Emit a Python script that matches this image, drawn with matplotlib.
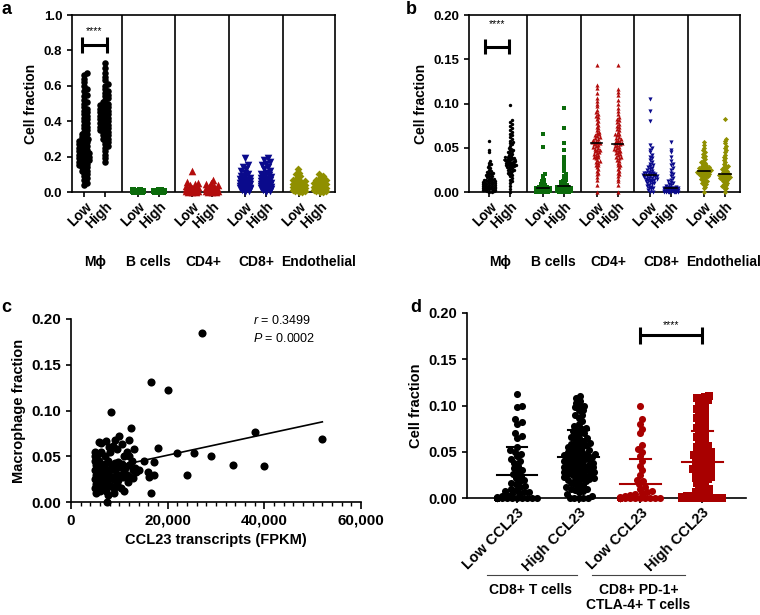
import matplotlib
matplotlib.use('Agg')
import matplotlib.pyplot as plt
import matplotlib.transforms as mtransforms
import numpy as np

plt.rcParams['font.family'] = ['Liberation Sans', 'DejaVu Sans']
plt.rcParams['mathtext.fontset'] = 'custom'
plt.rcParams['mathtext.rm'] = 'Liberation Sans'
plt.rcParams['mathtext.it'] = 'Liberation Sans:italic'

# ---- data -------------------------------------------------------------
cell_types = ['M\u03d5', 'B cells', 'CD4+', 'CD8+', 'Endothelial']
group_colors = ['black', '#0b6b0b', '#b30d0d', '#0a0a8c', '#8f8f00']
group_markers = ['o', 's', '^', 'v', 'D']

# panel a (low / high CCL23)
mac_a_low = [0.04, 0.05, 0.07, 0.08, 0.09, 0.10, 0.11, 0.12, 0.12, 0.13, 0.14, 0.14, 0.15, 0.15, 0.16, 0.16,
             0.17, 0.17, 0.18, 0.18, 0.18, 0.19, 0.19, 0.20, 0.20, 0.20, 0.21, 0.21, 0.22, 0.22, 0.22, 0.23,
             0.23, 0.24, 0.24, 0.25, 0.25, 0.26, 0.26, 0.27, 0.27, 0.28, 0.28, 0.29, 0.30, 0.30, 0.31, 0.32,
             0.33, 0.33, 0.34, 0.35, 0.36, 0.37, 0.38, 0.39, 0.40, 0.41, 0.42, 0.43, 0.44, 0.45, 0.46, 0.47,
             0.48, 0.50, 0.51, 0.52, 0.54, 0.55, 0.57, 0.58, 0.60, 0.62, 0.64, 0.66, 0.67]
mac_a_high = [0.17, 0.19, 0.21, 0.23, 0.25, 0.26, 0.27, 0.28, 0.29, 0.30, 0.30, 0.31, 0.32, 0.32, 0.33, 0.34,
              0.34, 0.35, 0.35, 0.36, 0.36, 0.37, 0.37, 0.38, 0.38, 0.39, 0.39, 0.40, 0.40, 0.41, 0.41, 0.42,
              0.42, 0.43, 0.43, 0.44, 0.44, 0.45, 0.45, 0.46, 0.46, 0.47, 0.47, 0.48, 0.48, 0.49, 0.50, 0.50,
              0.51, 0.52, 0.53, 0.54, 0.55, 0.56, 0.57, 0.58, 0.60, 0.61, 0.63, 0.65, 0.67, 0.70, 0.73]
b_a_low = [0.0, 0.0, 0.0, 0.001, 0.002, 0.003, 0.004, 0.005, 0.006, 0.008, 0.010, 0.012, 0.0, 0.002, 0.004]
b_a_high = [0.0, 0.0, 0.0, 0.001, 0.002, 0.003, 0.004, 0.005, 0.006, 0.007, 0.009, 0.011, 0.0, 0.003]
cd4_a_low = [0.0, 0.0, 0.0, 0.005, 0.005, 0.01, 0.01, 0.01, 0.015, 0.015, 0.02, 0.02, 0.025, 0.03, 0.035,
             0.04, 0.045, 0.05, 0.055, 0.12]
cd4_a_high = [0.0, 0.0, 0.0, 0.005, 0.005, 0.01, 0.01, 0.015, 0.02, 0.02, 0.025, 0.03, 0.035, 0.04, 0.045,
              0.05, 0.07]
cd8_a_low = [0.19, 0.15, 0.14, 0.13, 0.12, 0.11, 0.10, 0.09, 0.085, 0.08, 0.075, 0.07, 0.065, 0.06, 0.06,
             0.055, 0.05, 0.05, 0.045, 0.045, 0.04, 0.04, 0.035, 0.035, 0.03, 0.03, 0.03, 0.025, 0.025, 0.02,
             0.02, 0.02, 0.015, 0.015, 0.01, 0.01, 0.005, 0.0]
cd8_a_high = [0.19, 0.18, 0.17, 0.16, 0.15, 0.14, 0.13, 0.12, 0.11, 0.10, 0.095, 0.09, 0.085, 0.08, 0.075,
              0.07, 0.065, 0.06, 0.06, 0.055, 0.05, 0.05, 0.045, 0.045, 0.04, 0.04, 0.035, 0.035, 0.03, 0.03,
              0.03, 0.025, 0.025, 0.02, 0.02, 0.015, 0.015, 0.01, 0.01, 0.005, 0.0]
endo_a_low = [0.13, 0.11, 0.10, 0.09, 0.08, 0.07, 0.065, 0.06, 0.055, 0.05, 0.045, 0.04, 0.04, 0.035, 0.03,
              0.03, 0.025, 0.025, 0.02, 0.02, 0.015, 0.015, 0.01, 0.01, 0.005, 0.005, 0.0, 0.0]
endo_a_high = [0.10, 0.09, 0.08, 0.07, 0.065, 0.06, 0.055, 0.05, 0.045, 0.04, 0.035, 0.03, 0.03, 0.025, 0.025,
               0.02, 0.02, 0.015, 0.015, 0.01, 0.01, 0.005, 0.005, 0.0, 0.0]

# panel b
mac_b_low = [0.058, 0.048, 0.045, 0.035, 0.033, 0.032, 0.03, 0.028, 0.027, 0.025, 0.024, 0.023, 0.022, 0.021,
             0.02, 0.02, 0.019, 0.018, 0.018, 0.017, 0.016, 0.015, 0.015, 0.014, 0.014, 0.013, 0.013, 0.012,
             0.012, 0.011, 0.011, 0.01, 0.01, 0.01, 0.009, 0.009, 0.009, 0.008, 0.008, 0.008, 0.007, 0.007,
             0.007, 0.006, 0.006, 0.006, 0.005, 0.005, 0.005, 0.004, 0.004, 0.004, 0.003, 0.003, 0.003, 0.002,
             0.002, 0.002, 0.001, 0.001, 0.0, 0.0]
mac_b_high = [0.098, 0.081, 0.079, 0.077, 0.075, 0.072, 0.07, 0.068, 0.066, 0.064, 0.062, 0.06, 0.058, 0.056,
              0.055, 0.054, 0.052, 0.05, 0.049, 0.048, 0.047, 0.046, 0.045, 0.044, 0.043, 0.042, 0.041, 0.04,
              0.04, 0.039, 0.038, 0.038, 0.037, 0.036, 0.036, 0.035, 0.035, 0.034, 0.034, 0.033, 0.033, 0.032,
              0.032, 0.031, 0.031, 0.03, 0.03, 0.029, 0.029, 0.028, 0.028, 0.027, 0.026, 0.025, 0.025, 0.024,
              0.023, 0.022, 0.021, 0.02, 0.019, 0.018, 0.016, 0.014, 0.012, 0.01, 0.007, 0.003, 0.0]
b_b_low = [0.065, 0.051, 0.02, 0.018, 0.015, 0.013, 0.012, 0.01, 0.009, 0.008, 0.007, 0.006, 0.006, 0.005,
           0.005, 0.004, 0.004, 0.004, 0.003, 0.003, 0.003, 0.002, 0.002, 0.002, 0.002, 0.001, 0.001, 0.001,
           0.001, 0.0, 0.0, 0.0, 0.0, 0.0, 0.0]
b_b_high = [0.095, 0.072, 0.055, 0.048, 0.04, 0.035, 0.03, 0.027, 0.024, 0.02, 0.018, 0.016, 0.015, 0.013,
            0.012, 0.011, 0.01, 0.009, 0.008, 0.007, 0.007, 0.006, 0.006, 0.005, 0.005, 0.004, 0.004, 0.004,
            0.003, 0.003, 0.003, 0.002, 0.002, 0.002, 0.001, 0.001, 0.001, 0.0, 0.0, 0.0, 0.0, 0.0]
cd4_b_low = [0.143, 0.121, 0.118, 0.112, 0.106, 0.103, 0.1, 0.097, 0.093, 0.09, 0.088, 0.086, 0.085, 0.083,
             0.08, 0.078, 0.076, 0.074, 0.072, 0.07, 0.068, 0.067, 0.065, 0.064, 0.063, 0.062, 0.061, 0.06,
             0.059, 0.058, 0.057, 0.056, 0.055, 0.055, 0.054, 0.053, 0.052, 0.051, 0.05, 0.049, 0.048, 0.047,
             0.046, 0.045, 0.044, 0.043, 0.042, 0.041, 0.04, 0.039, 0.038, 0.036, 0.035, 0.034, 0.033, 0.031,
             0.03, 0.028, 0.026, 0.024, 0.022, 0.02, 0.017, 0.013, 0.008, 0.0]
cd4_b_high = [0.143, 0.116, 0.113, 0.11, 0.104, 0.1, 0.095, 0.092, 0.088, 0.085, 0.083, 0.081, 0.079, 0.077,
              0.075, 0.073, 0.071, 0.07, 0.068, 0.066, 0.065, 0.064, 0.062, 0.061, 0.06, 0.059, 0.058, 0.057,
              0.056, 0.055, 0.055, 0.054, 0.053, 0.052, 0.051, 0.05, 0.049, 0.048, 0.047, 0.046, 0.045, 0.044,
              0.043, 0.042, 0.04, 0.039, 0.038, 0.036, 0.035, 0.033, 0.031, 0.03, 0.028, 0.026, 0.024, 0.022,
              0.02, 0.018, 0.015, 0.012, 0.008, 0.0]
cd8_b_low = [0.105, 0.092, 0.08, 0.053, 0.05, 0.048, 0.045, 0.042, 0.04, 0.038, 0.036, 0.034, 0.032, 0.03,
             0.029, 0.028, 0.027, 0.026, 0.025, 0.024, 0.023, 0.022, 0.022, 0.021, 0.021, 0.02, 0.02, 0.019,
             0.019, 0.018, 0.018, 0.018, 0.017, 0.017, 0.016, 0.016, 0.015, 0.015, 0.014, 0.014, 0.013, 0.012,
             0.012, 0.011, 0.01, 0.01, 0.009, 0.008, 0.007, 0.006, 0.005, 0.004, 0.003, 0.002, 0.0, 0.0]
cd8_b_high = [0.057, 0.048, 0.045, 0.04, 0.035, 0.032, 0.03, 0.027, 0.025, 0.022, 0.02, 0.018, 0.016, 0.014,
              0.012, 0.011, 0.01, 0.009, 0.008, 0.007, 0.006, 0.006, 0.005, 0.005, 0.005, 0.004, 0.004, 0.004,
              0.004, 0.003, 0.003, 0.003, 0.003, 0.002, 0.002, 0.002, 0.002, 0.001, 0.001, 0.001, 0.001, 0.0,
              0.0, 0.0, 0.0, 0.0, 0.0, 0.0, 0.0, 0.0, 0.0]
endo_b_low = [0.056, 0.053, 0.05, 0.047, 0.045, 0.043, 0.041, 0.039, 0.037, 0.035, 0.034, 0.033, 0.032, 0.031,
              0.03, 0.029, 0.028, 0.028, 0.027, 0.027, 0.026, 0.026, 0.025, 0.025, 0.024, 0.024, 0.023, 0.023,
              0.023, 0.022, 0.022, 0.021, 0.021, 0.02, 0.02, 0.019, 0.019, 0.018, 0.018, 0.017, 0.016, 0.015,
              0.014, 0.013, 0.012, 0.011, 0.01, 0.009, 0.008, 0.006, 0.004, 0.0]
endo_b_high = [0.082, 0.06, 0.058, 0.055, 0.052, 0.05, 0.047, 0.045, 0.042, 0.04, 0.038, 0.036, 0.034, 0.032,
               0.03, 0.029, 0.028, 0.027, 0.026, 0.025, 0.024, 0.023, 0.022, 0.021, 0.02, 0.02, 0.019, 0.019,
               0.018, 0.018, 0.017, 0.017, 0.016, 0.016, 0.015, 0.015, 0.014, 0.013, 0.012, 0.011, 0.01, 0.009,
               0.008, 0.007, 0.006, 0.005, 0.003, 0.0]

panel_a_groups = [(mac_a_low, mac_a_high), (b_a_low, b_a_high), (cd4_a_low, cd4_a_high),
                  (cd8_a_low, cd8_a_high), (endo_a_low, endo_a_high)]
panel_b_groups = [(mac_b_low, mac_b_high), (b_b_low, b_b_high), (cd4_b_low, cd4_b_high),
                  (cd8_b_low, cd8_b_high), (endo_b_low, endo_b_high)]

# panel c: CCL23 FPKM vs macrophage fraction
ccl23_fpkm = [27200, 16500, 20000, 8200, 52000, 38000, 40000, 33500, 29000, 25500, 22000, 24000, 16500, 7500,
              17200, 15000, 18000, 17200, 16200, 16000, 14000, 12500, 12000, 13000, 12800, 12000, 11000, 10000,
              10500, 9000, 7200, 5800, 7800, 8600,
              5000, 5000, 5000, 5200, 5000, 5100, 5000, 5200, 5000, 5100, 5500, 5800, 5600, 5900, 5700, 6000,
              5800, 6100, 6300, 6500, 6600, 6400, 6700, 6500, 6800, 7000, 7200, 7400, 7300, 7600, 7800, 8000,
              8200, 8400, 8600, 8800, 9000, 9200, 9400, 9600, 9800, 10000, 10200, 10400, 10600, 10800, 11000,
              11200, 11500, 11800, 12000, 12300, 12600, 13200, 13500, 6200, 8000, 9500, 11500, 7000, 6900,
              9800, 10900, 12900, 8900, 7600]
mac_fraction = [0.185, 0.131, 0.122, 0.098, 0.069, 0.077, 0.039, 0.040, 0.050, 0.054, 0.054, 0.029, 0.010,
                0.000, 0.044, 0.045, 0.059, 0.029, 0.027, 0.033, 0.035, 0.081, 0.068, 0.058, 0.035, 0.050,
                0.050, 0.072, 0.063, 0.068, 0.067, 0.066, 0.060, 0.061,
                0.055, 0.050, 0.045, 0.040, 0.035, 0.030, 0.025, 0.020, 0.015, 0.010, 0.052, 0.045, 0.038,
                0.032, 0.027, 0.022, 0.017, 0.012, 0.055, 0.040, 0.035, 0.030, 0.025, 0.020, 0.015, 0.041,
                0.030, 0.022, 0.012, 0.045, 0.035, 0.028, 0.018, 0.040, 0.025, 0.015, 0.043, 0.035, 0.028,
                0.020, 0.044, 0.038, 0.030, 0.015, 0.042, 0.027, 0.012, 0.037, 0.030, 0.022, 0.040, 0.027,
                0.045, 0.037, 0.033, 0.065, 0.055, 0.058, 0.055, 0.050, 0.020, 0.024, 0.033, 0.026, 0.010,
                0.008]
corr_text = ['$\\it{r}$ = 0.3499', '$\\it{P}$ = 0.0002']

# panel d
cd8_low_ccl23 = [0.112, 0.1, 0.098, 0.085, 0.082, 0.08, 0.07, 0.067, 0.065, 0.055, 0.052, 0.05, 0.048, 0.045,
                 0.042, 0.04, 0.038, 0.035, 0.032, 0.03, 0.028, 0.026, 0.024, 0.022, 0.02, 0.018, 0.016,
                 0.015, 0.013, 0.012, 0.01, 0.009, 0.008, 0.007, 0.006, 0.005, 0.004, 0.003, 0.002, 0.001]
cd8_low_ccl23 += [0.0] * 20
cd8_high_ccl23 = [0.11, 0.108, 0.105, 0.103, 0.1, 0.098, 0.095, 0.09, 0.087, 0.083, 0.08, 0.078, 0.076, 0.074,
                  0.072, 0.07, 0.068, 0.066, 0.065, 0.063, 0.06, 0.058, 0.056, 0.055, 0.053, 0.052, 0.05,
                  0.049, 0.048, 0.047, 0.046, 0.045, 0.044, 0.043, 0.042, 0.041, 0.04, 0.039, 0.038, 0.037,
                  0.036, 0.035, 0.034, 0.033, 0.032, 0.031, 0.03, 0.029, 0.028, 0.027, 0.026, 0.025, 0.024,
                  0.023, 0.022, 0.021, 0.02, 0.018, 0.016, 0.014, 0.012, 0.01, 0.009, 0.008, 0.006, 0.004,
                  0.002, 0.0, 0.0, 0.0, 0.0, 0.0,
                  0.1, 0.095, 0.09, 0.075, 0.07, 0.065, 0.062, 0.06, 0.057, 0.055, 0.052, 0.05, 0.048, 0.046,
                  0.044, 0.042, 0.04, 0.038, 0.036, 0.034, 0.032, 0.03, 0.028, 0.026, 0.024, 0.022, 0.02,
                  0.018, 0.015, 0.012, 0.01]
pd1_low_ccl23 = [0.1, 0.085, 0.08, 0.075, 0.07, 0.057, 0.053, 0.05, 0.045, 0.04, 0.035, 0.03, 0.025, 0.02,
                 0.018, 0.015, 0.012, 0.01, 0.008, 0.006, 0.005, 0.004, 0.003, 0.002, 0.001]
pd1_low_ccl23 += [0.0] * 30
pd1_high_ccl23 = [0.11, 0.109, 0.108, 0.106, 0.105, 0.103, 0.1, 0.098, 0.096, 0.094, 0.092, 0.09, 0.088,
                  0.086, 0.084, 0.082, 0.08, 0.078, 0.076, 0.074, 0.072, 0.07, 0.068, 0.066, 0.064, 0.062,
                  0.06, 0.058, 0.056, 0.055, 0.054, 0.052, 0.05, 0.049, 0.048, 0.047, 0.046, 0.045, 0.044,
                  0.043, 0.042, 0.041, 0.04, 0.039, 0.038, 0.037, 0.036, 0.035, 0.034, 0.033, 0.032, 0.031,
                  0.03, 0.029, 0.028, 0.027, 0.026, 0.025, 0.024, 0.023, 0.022, 0.021, 0.02, 0.018, 0.016,
                  0.014, 0.012, 0.01, 0.009, 0.008, 0.007, 0.006, 0.005, 0.004, 0.003, 0.002, 0.001,
                  0.108, 0.104, 0.1, 0.095, 0.09, 0.085, 0.08, 0.075, 0.07, 0.065, 0.06, 0.055, 0.05, 0.047,
                  0.044, 0.042, 0.04, 0.038, 0.036, 0.034, 0.032, 0.03, 0.028, 0.026, 0.024, 0.022, 0.02,
                  0.015, 0.01, 0.005, 0.002]
pd1_high_ccl23 += [0.0] * 30
d_groups = [cd8_low_ccl23, cd8_high_ccl23, pd1_low_ccl23, pd1_high_ccl23]
d_colors = ['black', 'black', '#a80000', '#a80000']
d_markers = ['o', 'o', 'o', 's']
d_ticklabels = ['Low CCL23', 'High CCL23', 'Low CCL23', 'High CCL23']


# Spreads points sideways so that markers of diameter d (pixels) don't overlap, like a GraphPad dot plot.
def swarm(ax, vals, center, d, maxw):
    fig = ax.figure
    bb = ax.get_position()
    W, H = fig.get_size_inches() * fig.dpi
    x0, x1 = ax.get_xlim()
    y0, y1 = ax.get_ylim()
    kx = bb.width * W / (x1 - x0)
    ky = bb.height * H / (y1 - y0)
    y = np.asarray(vals, float) * ky
    xs = np.zeros(len(y))
    placed = []
    for i in np.argsort(y, kind='stable'):
        near = [(px, py) for px, py in placed if abs(py - y[i]) < d]
        cands = [0.0]
        for px, py in near:
            w = np.sqrt(d * d - (y[i] - py) ** 2)
            cands += [px + w, px - w]
        cands.sort(key=abs)
        best = None
        for c in cands:
            if abs(c) > maxw + 1e-9:
                continue
            if all((c - px) ** 2 + (y[i] - py) ** 2 >= d * d - 1e-6 for px, py in near):
                best = c
                break
        if best is None:
            grid = np.linspace(-maxw, maxw, 9)
            score = [min((g - px) ** 2 + (y[i] - py) ** 2 for px, py in near) for g in grid]
            best = grid[int(np.argmax(score))]
        placed.append((best, y[i]))
        xs[i] = best
    return center + xs / kx


def bracket(ax, x1, x2, y, cap, lw=2.2):
    ax.plot([x1, x2], [y, y], color='black', lw=lw, solid_capstyle='butt')
    ax.plot([x1, x1], [y - cap, y + cap], color='black', lw=lw, solid_capstyle='butt')
    ax.plot([x2, x2], [y - cap, y + cap], color='black', lw=lw, solid_capstyle='butt')


def style_axis(ax, fs=9.5):
    for s in ax.spines.values():
        s.set_linewidth(1.2)
    ax.tick_params(width=1.2, length=3.5, labelsize=fs)
    for lab in ax.get_yticklabels():
        lab.set_fontweight('bold')


fig = plt.figure(figsize=(7.6, 6.15), dpi=100)
W, H = 760.0, 615.0

low_pos = [2 * k + 0.6 for k in range(5)]
high_pos = [2 * k + 1.38 for k in range(5)]
cat_label_x = [1.0, 3.0, 5.05, 7.0, 9.35]


def dot_panel(rect, xlim, ymax, yticks, yfmt, groups, sizes, d, maxw, medians):
    ax = fig.add_axes(rect)
    ax.set_xlim(xlim)
    ax.set_ylim(0, ymax)
    for xs in [2, 4, 6, 8]:
        ax.axvline(xs, color='black', lw=1.2)
    for k, (lo, hi) in enumerate(groups):
        for pos, vals in [(low_pos[k], lo), (high_pos[k], hi)]:
            xx = swarm(ax, vals, pos, d[k], maxw[k])
            ax.scatter(xx, vals, s=sizes[k], marker=group_markers[k], color=group_colors[k],
                       linewidths=0, clip_on=False, zorder=3)
            if medians:
                ax.plot([pos - 0.22, pos + 0.22], [np.median(vals)] * 2, color='black', lw=1.2, zorder=4)
    ticks = []
    labels = []
    for k in range(5):
        ticks += [low_pos[k], high_pos[k]]
        labels += ['Low', 'High']
    ax.set_xticks(ticks)
    ax.set_xticklabels(labels, rotation=45, ha='right', rotation_mode='anchor', fontweight='bold')
    ax.set_yticks(yticks)
    ax.set_yticklabels([yfmt.format(t) for t in yticks])
    ax.set_ylabel('Cell fraction', fontsize=10, fontweight='bold')
    style_axis(ax)
    ax.tick_params(axis='x', labelsize=10, pad=2)
    trans = mtransforms.blended_transform_factory(ax.transData, ax.transAxes)
    for x, name in zip(cat_label_x, cell_types):
        ax.text(x, -0.395, name, transform=trans, ha='center', va='center', fontsize=10, fontweight='bold')
    return ax


# panel a
ax_a = dot_panel([72 / W, 1 - 192 / H, 263 / W, 177 / H], (0.14, 9.95), 1.0,
                 [0.0, 0.2, 0.4, 0.6, 0.8, 1.0], '{:.1f}', panel_a_groups,
                 sizes=[22, 20, 30, 30, 16], d=[3.2, 4.0, 4.0, 4.0, 3.6], maxw=[5, 5, 6, 5, 6], medians=False)
bracket(ax_a, 0.5, 1.45, 0.83, 0.045)
ax_a.text(0.97, 0.91, '****', ha='center', va='center', fontsize=7.5)

# panel b
ax_b = dot_panel([469 / W, 1 - 192 / H, 271 / W, 177 / H], (-0.16, 9.95), 0.2,
                 [0.0, 0.05, 0.10, 0.15, 0.20], '{:.2f}', panel_b_groups,
                 sizes=[6, 7, 9, 9, 7], d=[2.2, 2.4, 2.6, 2.6, 2.4], maxw=[6, 7, 8, 7, 7], medians=True)
bracket(ax_b, 0.42, 1.33, 0.164, 0.0085)
ax_b.text(0.88, 0.19, '****', ha='center', va='center', fontsize=7.5)

# panel c
ax_c = fig.add_axes([71 / W, 1 - 502 / H, 290 / W, 183 / H])
ax_c.scatter(ccl23_fpkm, mac_fraction, s=34, color='black', linewidths=0, clip_on=False, zorder=3)
slope, icpt = np.polyfit(ccl23_fpkm, mac_fraction, 1)
fx = np.array([min(ccl23_fpkm), max(ccl23_fpkm)])
ax_c.plot(fx, slope * fx + icpt, color='black', lw=1.2, zorder=4)
ax_c.set_xlim(0, 60000)
ax_c.set_ylim(0, 0.2)
ax_c.spines['top'].set_visible(False)
ax_c.spines['right'].set_visible(False)
ax_c.set_xticks([0, 20000, 40000, 60000])
ax_c.set_xticklabels(['0', '20,000', '40,000', '60,000'], fontweight='bold')
ax_c.set_xticks(np.arange(0, 60001, 2000), minor=True)
ax_c.set_yticks([0.0, 0.05, 0.10, 0.15, 0.20])
ax_c.set_yticklabels(['{:.2f}'.format(t) for t in [0.0, 0.05, 0.10, 0.15, 0.20]])
style_axis(ax_c, fs=11)
ax_c.tick_params(axis='x', which='major', length=5)
ax_c.tick_params(axis='x', which='minor', length=3, width=1.0)
ax_c.set_xlabel('CCL23 transcripts (FPKM)', fontsize=10.5, fontweight='bold')
ax_c.set_ylabel('Macrophage fraction', fontsize=10.5, fontweight='bold')
ax_c.text(37600, 0.198, corr_text[0], ha='left', va='center', fontsize=9)
ax_c.text(37600, 0.179, corr_text[1], ha='left', va='center', fontsize=9)

# panel d
ax_d = fig.add_axes([467 / W, 1 - 498 / H, 279 / W, 185 / H])
ax_d.set_xlim(-0.81, 3.71)
ax_d.set_ylim(0, 0.2)
d_spacing = [5.0, 4.6, 5.0, 3.4]
for k, vals in enumerate(d_groups):
    xx = swarm(ax_d, vals, k, d_spacing[k], 20)
    ax_d.scatter(xx, vals, s=26, marker=d_markers[k], color=d_colors[k], linewidths=0, clip_on=False, zorder=3)
    m = np.mean(vals)
    sd = np.std(vals, ddof=1)
    ax_d.plot([k - 0.33, k + 0.33], [m, m], color=d_colors[k], lw=1.5, zorder=4)
    ax_d.plot([k - 0.17, k + 0.17], [m + sd, m + sd], color=d_colors[k], lw=1.5, zorder=4)
ax_d.spines['top'].set_visible(False)
ax_d.spines['right'].set_visible(False)
ax_d.set_xticks(range(4))
ax_d.set_xticklabels(d_ticklabels, rotation=45, ha='right', rotation_mode='anchor', fontweight='bold')
ax_d.set_yticks([0.0, 0.05, 0.10, 0.15, 0.20])
ax_d.set_yticklabels(['{:.2f}'.format(t) for t in [0.0, 0.05, 0.10, 0.15, 0.20]])
style_axis(ax_d, fs=10.5)
ax_d.tick_params(axis='x', labelsize=10.5, pad=2)
ax_d.set_ylabel('Cell fraction', fontsize=10.5, fontweight='bold')
bracket(ax_d, 2, 3, 0.176, 0.009)
ax_d.text(2.5, 0.187, '****', ha='center', va='center', fontsize=7.5)
trans_d = mtransforms.blended_transform_factory(ax_d.transData, ax_d.transAxes)
ax_d.plot([-0.49, 0.97], [-0.416, -0.416], color='#444444', lw=0.8, transform=trans_d, clip_on=False)
ax_d.plot([1.22, 2.72], [-0.416, -0.416], color='#444444', lw=0.8, transform=trans_d, clip_on=False)
ax_d.text(0.22, -0.46, 'CD8+ T cells', transform=trans_d, ha='center', va='top', fontsize=10,
          fontweight='bold')
ax_d.text(1.97, -0.46, 'CD8+ PD-1+\nCTLA-4+ T cells', transform=trans_d, ha='center', va='top', fontsize=10,
          fontweight='bold', linespacing=1.1)

# panel letters
fig.text(1 / W, 1 - 1 / H, 'a', fontsize=13, fontweight='bold', va='top', ha='left')
fig.text(406 / W, 1 - 1 / H, 'b', fontsize=13, fontweight='bold', va='top', ha='left')
fig.text(1 / W, 1 - 299 / H, 'c', fontsize=13, fontweight='bold', va='top', ha='left')
fig.text(410 / W, 1 - 299 / H, 'd', fontsize=13, fontweight='bold', va='top', ha='left')

fig.savefig('out.png', dpi=100)
